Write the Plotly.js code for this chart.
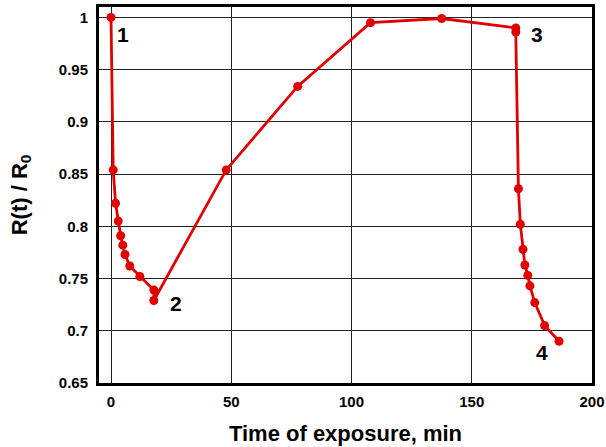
<!DOCTYPE html>
<html>
<head>
<meta charset="utf-8">
<script src="https://cdn.plot.ly/plotly-3.0.1.min.js"></script>
<style>html,body{margin:0;padding:0;background:#fff;}#chart{width:606px;height:447px;}</style>
</head>
<body>
<div id="chart"></div>
<script>
// Time of exposure (min)
const timeMin = [0, 0.9, 1.9, 3.0, 4.0, 4.9, 5.8, 7.8, 12, 17.8, 17.8, 47.9, 77.6, 107.9, 137.5, 168.3, 168.3, 169.4, 170.2, 171.3, 172.1, 173.3, 174.2, 176.2, 180.3, 186.3];
// R(t)/R0
const ratio = [1.0, 0.854, 0.822, 0.805, 0.791, 0.782, 0.773, 0.762, 0.752, 0.739, 0.729, 0.854, 0.934, 0.995, 0.999, 0.990, 0.986, 0.836, 0.802, 0.778, 0.763, 0.753, 0.743, 0.727, 0.705, 0.690];

// Point labels
const labelText = ["1", "2", "3", "4"];
const labelX = [5, 27, 177, 179];
const labelY = [0.984, 0.726, 0.984, 0.679];

const yTickVals = [0.65, 0.7, 0.75, 0.8, 0.85, 0.9, 0.95, 1];
const yTickText = ["0.65", "0.7", "0.75", "0.8", "0.85", "0.9", "0.95", "1"];
const xTickVals = [0, 50, 100, 150, 200];
const xTickText = ["0", "50", "100", "150", "200"];

const font = 'Arial, "Liberation Sans", sans-serif';
const b = s => '<b>' + s + '</b>';

const trace = {
  x: timeMin, y: ratio, type: 'scatter', mode: 'lines+markers',
  line: {color: '#e00000', width: 2.8},
  marker: {color: '#e00000', size: 9},
  showlegend: false, hoverinfo: 'skip'
};

const annotations = labelText.map((t, i) => ({
  x: labelX[i], y: labelY[i], xref: 'x', yref: 'y', text: b(t),
  showarrow: false, font: {family: font, size: 21, color: '#000'}
}));

const layout = {
  width: 606, height: 447,
  margin: {l: 99, r: 14, t: 7, b: 64},
  paper_bgcolor: '#fff', plot_bgcolor: '#fff',
  font: {family: font, color: '#000'},
  xaxis: {
    range: [-5, 200], tickvals: xTickVals, ticktext: xTickText.map(b), ticks: '',
    showgrid: true, gridcolor: '#222', gridwidth: 1,
    zeroline: false, showline: true, mirror: true, linecolor: '#000', linewidth: 3,
    tickfont: {family: font, size: 15, color: '#000', weight: 'bold'},
    ticklabelstandoff: 3,
    title: {text: b('Time of exposure, min'), font: {family: font, size: 22, color: '#000'}, standoff: 17}
  },
  yaxis: {
    range: [0.65, 1.01], tickvals: yTickVals, ticktext: yTickText.map(b), ticks: '',
    showgrid: true, gridcolor: '#222', gridwidth: 1,
    zeroline: false, showline: true, mirror: true, linecolor: '#000', linewidth: 3,
    tickfont: {family: font, size: 15, color: '#000', weight: 'bold'},
    ticklabelstandoff: 5,
    title: {text: b('R(t) / R<sub>0</sub>'), font: {family: font, size: 22, color: '#000'}, standoff: 26}
  },
  annotations: annotations
};

Plotly.newPlot('chart', [trace], layout, {displayModeBar: false, staticPlot: true});
</script>
</body>
</html>
